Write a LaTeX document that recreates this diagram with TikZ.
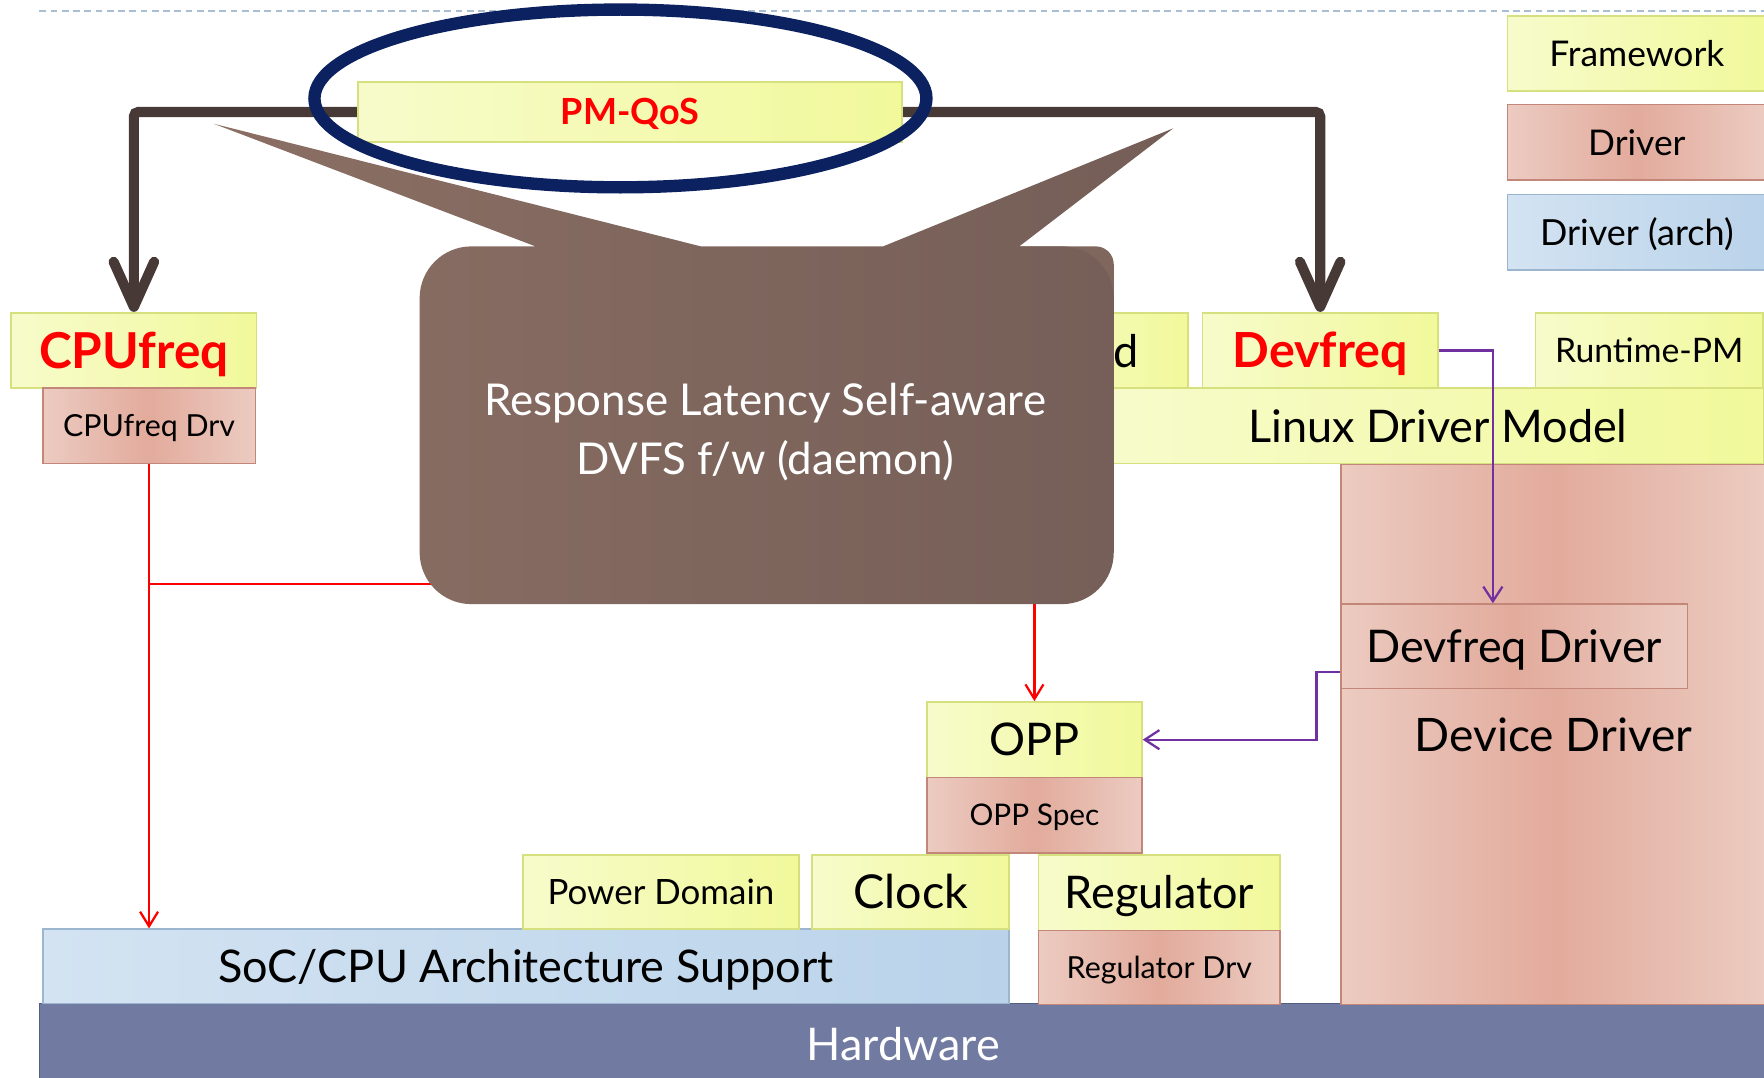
\documentclass[tikz,border=0pt]{standalone}
\usepackage{fontspec}
\setmainfont{Lato}
\usetikzlibrary{arrows.meta}
\definecolor{yelL}{HTML}{F7FBCB}
\definecolor{yelM}{HTML}{F1F99B}
\definecolor{yelB}{HTML}{D6E07F}
\definecolor{salL}{HTML}{ECCBC1}
\definecolor{salM}{HTML}{E2AB9C}
\definecolor{salB}{HTML}{C3877A}
\definecolor{bluL}{HTML}{D3E3F2}
\definecolor{bluM}{HTML}{BAD3EA}
\definecolor{bluB}{HTML}{9DB6D0}
\definecolor{hwF}{HTML}{717BA1}
\definecolor{hwB}{HTML}{545D82}
\definecolor{arrowdark}{HTML}{473A36}
\definecolor{navy}{HTML}{0C2260}
\definecolor{purp}{HTML}{7030A0}
\definecolor{cloudL}{HTML}{8B6F64}
\definecolor{cloudD}{HTML}{745E57}
\definecolor{cloudEdge}{HTML}{7F675E}
\definecolor{dashc}{HTML}{A9BDD3}
\newcommand\fsz[1]{\fontsize{#1}{#1}\selectfont}

\begin{document}
\begin{tikzpicture}[x=1pt,y=-1pt,
  % text of size #1 with its capitals centred in the node
  fs/.style={font=\fsz{#1}, text height={0.72*#1pt}, text depth=0pt},
  fsb/.style={font=\bfseries\fsz{#1}, text height={0.72*#1pt}, text depth=0pt},
  base/.style={rectangle, inner sep=0pt, line width=1.5pt, text=black},
  fw/.style={base, draw=yelB, left color=yelL, right color=yelM},
  drv/.style={base, draw=salB, left color=salL, right color=salL, middle color=salM},
  arch/.style={base, draw=bluB, left color=bluL, right color=bluM},
  sz/.style 2 args={minimum width=#1pt, minimum height=#2pt},
  bigarrow/.style={draw=arrowdark, line width=9pt, rounded corners=4pt,
    -{Straight Barb[length=40pt, width=36pt, round]}},
  redarrow/.style={draw=red, line width=2pt, -{Straight Barb[length=13pt, width=16pt]}},
  redline/.style={draw=red, line width=2pt},
  purparrow/.style={draw=purp, line width=2pt, -{Straight Barb[length=13pt, width=17pt]}},
]
\useasboundingbox (0,0) rectangle (1568,958);
\clip (0,0) rectangle (1568,958);

% header rule
\draw[dashc, line width=1.5pt, dash pattern=on 6pt off 4pt] (35,10) -- (1568,10);

% legend
\node[fw, sz={230}{67}, fs=31.5] (lgfw) at (1455,47.5) {Framework};
\node[drv, sz={230}{67}, fs=31.5] (lgdrv) at (1455,126.5) {Driver};
\node[arch, sz={230}{67}, fs=32] (lgarch) at (1455,206.5) {Driver (arch)};

% hardware and architecture layer
\node[base, fill=hwF, draw=hwB, sz={1540}{73}] (hw) at (805,928.5) {};
\node[fs=40, text=white] (hwtxt) at (803,928) {Hardware};
\node[arch, sz={859}{66}, fs=40] (soc) at (467.5,859) {SoC/CPU Architecture Support};
\node[fw, sz={245}{66}, fs=31] (pd) at (587.5,793) {Power Domain};
\node[fw, sz={175}{66}, fs=41.5] (clk) at (809.5,793) {Clock};
\node[fw, sz={215}{67}, fs=40] (reg) at (1030.5,793.5) {Regulator};
\node[drv, sz={215}{66}, fs=27] (regdrv) at (1030.5,860) {Regulator Drv};
\node[fw, sz={191}{67}, fs=40] (opp) at (919.5,657.5) {OPP};
\node[drv, sz={191}{67}, fs=26.5] (oppspec) at (919.5,724.5) {OPP Spec};

% device driver column
\node[drv, sz={378}{480}, fs=41] (devdrv) at (1381,653) {Device Driver};
\node[drv, sz={308}{75}, fs=40] (fdrv) at (1346,574.5) {Devfreq Driver};

% framework row
\node[fw, sz={580}{67}, fs=40] (ldm) at (1278,378.5) {Linux Driver Model};
\node[fw, sz={156}{67}] (govbox) at (978,311.5) {};
\node[font=\fsz{40}, anchor=base] (govtxt) at (1001,327) {d};
\node[fw, sz={209}{67}, fsb=43, text=red] (devfreq) at (1173.5,311.5) {Devfreq};
\node[fw, sz={202}{67}, fs=30] (rpm) at (1466,311.5) {Runtime-PM};
\node[fw, sz={218}{67}, fsb=44, text=red] (cpufreq) at (119,311.5) {CPUfreq};
\node[drv, sz={189}{67}, fs=27] (cpudrv) at (132.5,378.5) {CPUfreq Drv};

% PM-QoS notifications
\coordinate (qosmid) at (560,99.5);
\draw[bigarrow] (qosmid) -| (cpufreq.north);
\draw[bigarrow] (qosmid) -| (devfreq.north);
\node[fw, sz={484}{53}, fsb=32, text=red] (pmqos) at (qosmid) {PM-QoS};
\draw[navy, line width=11pt] (551.5,87.5) ellipse [x radius=272pt, y radius=79pt];

% daemon area (bounds) and its links
\node[inner sep=0pt, sz={617}{318}] (daemon) at (681.5,378) {};
\coordinate (dleft) at (386,519);
\draw[redarrow] (cpudrv.south) -- (cpudrv.south |- soc.north);
\draw[redline] (dleft) -- (dleft -| cpudrv.south);
\draw[redarrow] (daemon.south -| opp.north) -- (opp.north);

% devfreq links
\draw[purparrow] (devfreq.east) -| ([xshift=-19pt]fdrv.north);
\draw[purparrow] ([yshift=-22.5pt]fdrv.west) -- ++(-21,0) |- (opp.east);

% daemon callout: a back layer at the top right, then the body with its two pointers
\fill[cloudEdge, rounded corners=16pt] (880,219) rectangle (990,420);
\shade[left color=cloudL, right color=cloudD]
  [rounded corners=46pt] (373,219) rectangle (990,537)
  [sharp corners] (476,219) -- (190,110) -- (623,219) -- cycle
  (785,219) -- (1043,114) -- (906,219) -- cycle;
\node[text=white, align=center, font=\fontsize{39}{52}\selectfont] (daemontxt) at (680,384)
  {Response Latency Self-aware\\DVFS f/w (daemon)};
\end{tikzpicture}
\end{document}
